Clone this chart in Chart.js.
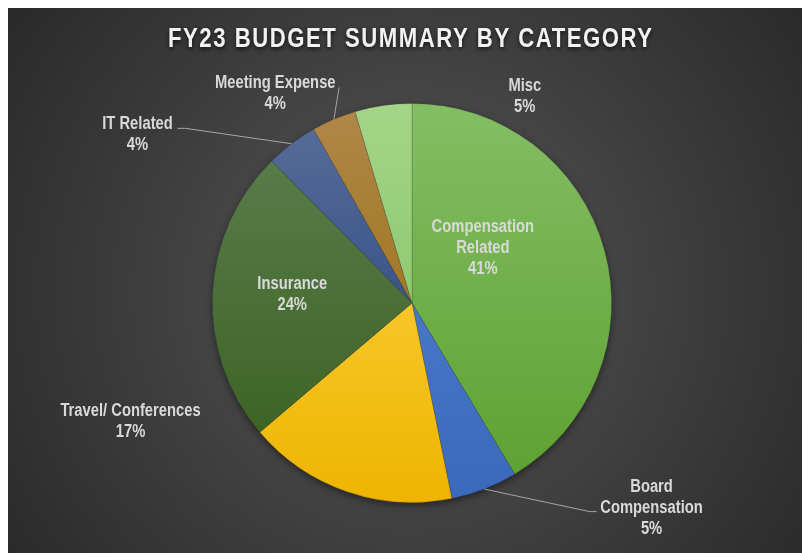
<!DOCTYPE html>
<html><head><meta charset="utf-8">
<script src="https://cdn.jsdelivr.net/npm/chart.js@4.4.0/dist/chart.umd.min.js"></script>
<style>html,body{margin:0;padding:0;background:#fff;overflow:hidden}canvas{display:block}</style>
</head><body>
<canvas id="c" width="802" height="553"></canvas>
<script>
// ---- data ----
const chartTitle = 'FY23 BUDGET SUMMARY BY CATEGORY';
const categories = ['Compensation Related','Board Compensation','Travel/ Conferences','Insurance','IT Related','Meeting Expense','Misc'];
const labelLines = [['Compensation','Related'],['Board','Compensation'],['Travel/ Conferences'],['Insurance'],['IT Related'],['Meeting Expense'],['Misc']];
const values = [41.4, 5.4, 17.0, 23.8, 4.2, 3.6, 4.6];

// ---- styles ----
const topColors    = ['#84be64','#5686d6','#ffd850','#5f7f52','#5a6e9a','#b08848','#a4d588'];
const bottomColors = ['#5aa02e','#3a68bb','#eeb400','#365f1c','#1a3a78','#956600','#7cbd5c'];
// label block centres, in units of pie radius from pie centre
const labelPos = [[0.355,-0.285],[1.2,1.02],[-1.41,0.585],[-0.6,-0.05],[-1.375,-0.85],[-0.685,-1.055],[0.565,-1.04]];
// leader lines: [elbow, end] in radius units (null = none)
const leaders = [null, [[0.89,1.045],[0.925,1.045]], null, null, [[-1.135,-0.875],[-1.175,-0.875]], [[-0.365,-1.08],[-0.365,-1.08]], null];

function hasFont(name){
  const c=document.createElement('canvas').getContext('2d');
  c.font='bold 40px monospace'; const a=c.measureText('Compensation Wg').width;
  c.font='bold 40px "'+name+'", monospace'; const b=c.measureText('Compensation Wg').width;
  return Math.abs(a-b)>0.5;
}
const narrow = hasFont('Liberation Sans Narrow') ? '"Liberation Sans Narrow"' : null;
const baseFam = narrow || '"Liberation Sans", Arial, sans-serif';
const hScale = narrow ? 1 : 0.82;

function drawText(ctx, txt, x, y, size, align, spacing){
  ctx.save();
  ctx.font = 'bold ' + size + 'px ' + baseFam;
  ctx.textAlign = align; ctx.textBaseline = 'alphabetic';
  if (spacing) ctx.letterSpacing = spacing + 'px';
  ctx.translate(x, y); ctx.scale(hScale, 1);
  ctx.fillText(txt, 0, 0);
  ctx.restore();
}
function textWidth(ctx, txt, size, spacing){
  ctx.save(); ctx.font='bold '+size+'px '+baseFam; if (spacing) ctx.letterSpacing = spacing+'px';
  const w = ctx.measureText(txt).width*hScale; ctx.restore(); return w;
}

function grad(c){
  const ch = c.chart, a = ch.chartArea;
  if (!a) return topColors[c.dataIndex];
  const g = ch.ctx.createLinearGradient(0, a.top, 0, a.bottom);
  g.addColorStop(0, topColors[c.dataIndex]);
  g.addColorStop(1, bottomColors[c.dataIndex]);
  return g;
}

const bgPlugin = {
  id:'bg',
  beforeDraw(chart){
    const ctx = chart.ctx, W = chart.width, H = chart.height;
    ctx.save();
    ctx.fillStyle = '#ffffff'; ctx.fillRect(0,0,W,H);
    const g = ctx.createRadialGradient(410, 290, 0, 410, 290, 520);
    g.addColorStop(0, '#585858');
    g.addColorStop(0.55, '#3c3c3c');
    g.addColorStop(1, '#272727');
    ctx.fillStyle = g; ctx.fillRect(8,8,W-8,H-8);
    ctx.restore();
  },
  beforeDatasetsDraw(chart){
    const el = chart.getDatasetMeta(0).data[0]; if (!el) return;
    const ctx = chart.ctx;
    ctx.save();
    ctx.shadowColor = 'rgba(0,0,0,0.55)'; ctx.shadowBlur = 8; ctx.shadowOffsetY = 3;
    ctx.fillStyle = '#333';
    ctx.beginPath(); ctx.arc(el.x, el.y, el.outerRadius-1, 0, Math.PI*2); ctx.fill();
    ctx.restore();
  },
  afterDraw(chart){
    const ctx = chart.ctx;
    const meta = chart.getDatasetMeta(0);
    const total = values.reduce((s,v)=>s+v,0);
    const fs = 18, lh = 21;
    // leader lines
    meta.data.forEach((el,i)=>{
      const L = leaders[i]; if (!L) return;
      const R = el.outerRadius, mid = (el.startAngle+el.endAngle)/2;
      ctx.save();
      ctx.strokeStyle = '#a6a6a6'; ctx.lineWidth = 1;
      ctx.beginPath();
      ctx.moveTo(el.x + Math.cos(mid)*R, el.y + Math.sin(mid)*R);
      ctx.lineTo(el.x + L[0][0]*R, el.y + L[0][1]*R);
      ctx.lineTo(el.x + L[1][0]*R, el.y + L[1][1]*R);
      ctx.stroke(); ctx.restore();
    });
    // labels
    meta.data.forEach((el,i)=>{
      const R = el.outerRadius;
      const cx = el.x + labelPos[i][0]*R, cy = el.y + labelPos[i][1]*R;
      const lines = labelLines[i].concat([Math.round(values[i]/total*100)+'%']);
      ctx.save(); ctx.fillStyle = '#d9d9d9';
      lines.forEach((t,k)=>{
        const yc = cy + (k-(lines.length-1)/2)*lh;
        drawText(ctx, t, cx, yc + fs*0.36, fs, 'center');
      });
      ctx.restore();
    });
    // title
    const ts = 27;
    const w0 = textWidth(ctx, chartTitle, ts, 0);
    const sp = Math.max(0, (484 - w0)/(chartTitle.length-1)/hScale);
    ctx.save();
    ctx.shadowColor = 'rgba(0,0,0,0.7)'; ctx.shadowBlur = 4; ctx.shadowOffsetY = 2;
    ctx.fillStyle = '#f2f2f2';
    drawText(ctx, chartTitle, 410 + sp*hScale/2, 47, ts, 'center', sp);
    ctx.restore();
  }
};

new Chart(document.getElementById('c'), {
  type:'pie',
  data:{ labels:categories, datasets:[{ data:values, backgroundColor:grad, borderColor:'rgba(50,50,50,0.3)', borderWidth:0.75 }]},
  options:{
    responsive:false, animation:false, devicePixelRatio:1,
    layout:{ padding:{ left:212, right:190, top:103, bottom:50 } },
    plugins:{ legend:{display:false}, tooltip:{enabled:false}, title:{display:false} }
  },
  plugins:[bgPlugin]
});
</script>
</body></html>
